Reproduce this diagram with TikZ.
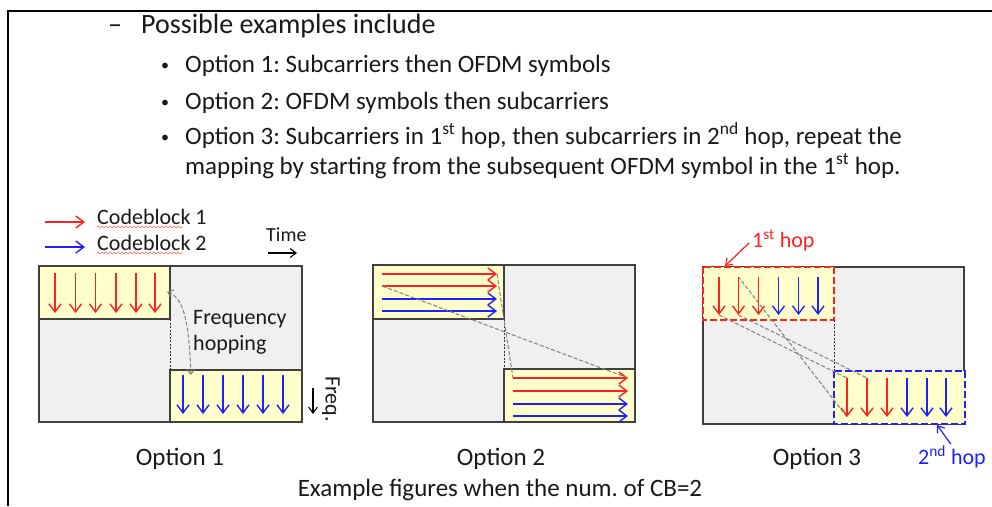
\documentclass[tikz,border=0pt]{standalone}
\usepackage{fontspec}
\setmainfont{Carlito}
\usetikzlibrary{arrows.meta,decorations.pathmorphing}
\definecolor{cbred}{HTML}{FF2020}
\definecolor{cbblue}{HTML}{2020FF}
\definecolor{cellgray}{HTML}{F0F0F0}
\definecolor{cellyellow}{HTML}{FFFFCC}
\definecolor{edgegray}{HTML}{404040}
\frenchspacing

\begin{document}
\begin{tikzpicture}[x=1pt,y=-1pt]
      % Styles for the three mapping examples
      \tikzstyle{txt} = [inner sep=0pt, anchor=base west, text=black!90]
      \tikzstyle{big} = [txt, font=\fontsize{28pt}{32pt}\selectfont]
      \tikzstyle{mid} = [txt, font=\fontsize{25pt}{30pt}\selectfont]
      \tikzstyle{small} = [txt, font=\fontsize{22pt}{26pt}\selectfont]
      \tikzstyle{bul} = [txt, font=\fontsize{16pt}{20pt}\selectfont]
      \tikzstyle{grid} = [draw=edgegray, fill=cellgray, line width=1.3pt]
      \tikzstyle{block} = [draw=edgegray, fill=cellyellow, line width=1.3pt]
      \tikzstyle{hopbox} = [fill=cellyellow, line width=2.4pt, dash pattern=on 7pt off 3pt]
      \tikzstyle{cbone} = [cbred, line width=1.4pt, -{Straight Barb[length=8pt,width=12pt]}]
      \tikzstyle{cbtwo} = [cbblue, line width=1.4pt, -{Straight Barb[length=8pt,width=12pt]}]
      \tikzstyle{link} = [gray, dash pattern=on 4pt off 2pt, line width=1pt]
      \tikzstyle{split} = [black!80, dash pattern=on 2pt off 1.5pt, line width=1pt]
      \tikzstyle{wavy} = [cbred!70, line width=0.6pt, decorate, decoration={snake, amplitude=0.9pt, segment length=4pt}]

      \useasboundingbox (0,0) rectangle (992,506);
      \draw[line width=2.2pt] (8,506) -- (8,11) -- (992,11);

      % Bullet text
      \node[big] (dash) at (108,33) {–};
      \node[big] (intro) at (141,33) {Possible examples include};
      \node[bul] (dot1) at (161,70) {•};
      \node[mid] (opt1) at (185,72) {Option 1: Subcarriers then OFDM symbols};
      \node[bul] (dot2) at (161,107) {•};
      \node[mid] (opt2) at (185,109) {Option 2: OFDM symbols then subcarriers};
      \node[bul] (dot3) at (161,142) {•};
      \node[mid] (opt3) at (185,144) {Option 3: Subcarriers in 1\textsuperscript{st} hop, then subcarriers in 2\textsuperscript{nd} hop, repeat the};
      \node[mid] (opt3b) at (185,174) {mapping by starting from the subsequent OFDM symbol in the 1\textsuperscript{st} hop.};

      % Legend
      \draw[cbone] (45,222) -- (85,222);
      \node[small] (cb1) at (97,224) {Codeblock 1};
      \draw[wavy] (97,227) -- (183,227);
      \draw[cbtwo] (45,247) -- (85,247);
      \node[small] (cb2) at (97,250) {Codeblock 2};
      \draw[wavy] (97,253) -- (183,253);

      % Option 1
      \draw[grid] (39,266) rectangle (302,422);
      \draw[block] (39,266) rectangle (170,319);
      \draw[block] (170,370) rectangle (302,422);
      \draw[split] (170,319) -- (170,370);
      \foreach \x in {55,75.5,95.5,116,136,155}
        \draw[cbone] (\x,273) -- (\x,313);
      \foreach \x in {183,203,223,243,263,283}
        \draw[cbtwo] (\x,375) -- (\x,414);
      \coordinate (hopA) at (167,292);
      \coordinate (hopB) at (191,375);
      \draw[link, {Straight Barb[length=5pt,width=8pt]}-{Straight Barb[length=5pt,width=8pt]}] (hopA) .. controls (186,298) and (189,330) .. (hopB);
      \node[small] (fh1) at (193,324) {Frequency};
      \node[small] (fh2) at (193,350) {hopping};
      \node[txt, font=\fontsize{20pt}{24pt}\selectfont] (time) at (266,241) {Time};
      \draw[line width=1.1pt, -{Straight Barb[length=6pt,width=9pt]}] (268,253) -- (297,253);
      \node[small, anchor=center, rotate=-90] (freq) at (331,399) {Freq.};
      \draw[line width=1.1pt, -{Straight Barb[length=6pt,width=9pt]}] (313,388) -- (313,414);
      \node[mid, anchor=base] (cap1) at (180,465) {Option 1};

      % Option 2
      \draw[grid] (373,265) rectangle (635,422);
      \draw[block] (373,265) rectangle (504,319);
      \draw[block] (504,369) rectangle (635,422);
      \draw[split] (504,319) -- (504,369);
      \foreach \y/\c in {274/cbone,286/cbone,299/cbtwo,311/cbtwo}
        \draw[\c] (382,\y) -- (497,\y);
      \foreach \y/\c in {378/cbone,391/cbone,404/cbtwo,416/cbtwo}
        \draw[\c] (513,\y) -- (628,\y);
      \coordinate (sA) at (497,274);
      \coordinate (sB) at (513,378);
      \coordinate (sC) at (628,378);
      \coordinate (sD) at (382,286);
      \draw[link] (sA) -- (sB);
      \draw[link] (sC) -- (sD);
      \node[mid, anchor=base] (cap2) at (501,465) {Option 2};

      % Option 3
      \draw[grid] (703,267) rectangle (964,424);
      \draw[hopbox, draw=cbred] (703,267) rectangle (834,320);
      \draw[hopbox, draw=cbblue] (834,371) rectangle (965,424);
      \draw[split] (834,320) -- (834,371);
      \foreach \x/\c in {719/cbone,738.5/cbone,758.5/cbone,778.5/cbtwo,798.5/cbtwo,818/cbtwo}
        \draw[\c] (\x,277) -- (\x,315);
      \foreach \x/\c in {847/cbone,867/cbone,887/cbone,907/cbtwo,927/cbtwo,946/cbtwo}
        \draw[\c] (\x,378) -- (\x,417);
      \coordinate (uA) at (719,315);
      \coordinate (uB) at (847,378);
      \coordinate (uC) at (847,417);
      \coordinate (uD) at (738.5,277);
      \coordinate (uE) at (738.5,315);
      \coordinate (uF) at (867,378);
      \draw[link] (uA) -- (uB);
      \draw[link] (uC) -- (uD);
      \draw[link] (uE) -- (uF);
      \node[small, text=cbred] (hop1) at (752,247) {1\textsuperscript{st} hop};
      \coordinate (hop1tip) at (725,266);
      \draw[cbred, line width=1.2pt, -{Straight Barb[length=6pt,width=9pt]}, shorten <=4pt] (hop1.west) -- (hop1tip);
      \node[small, text=cbblue] (hop2) at (918,464) {2\textsuperscript{nd} hop};
      \coordinate (hop2tip) at (937,425);
      \draw[cbblue, line width=1.2pt, -{Straight Barb[length=6pt,width=9pt]}, shorten <=2pt] (hop2.north) -- (hop2tip);
      \node[mid, anchor=base] (cap3) at (817,465) {Option 3};

      \node[mid, anchor=base] (note) at (500,496) {Example figures when the num. of CB=2};

    \end{tikzpicture}
\end{document}
